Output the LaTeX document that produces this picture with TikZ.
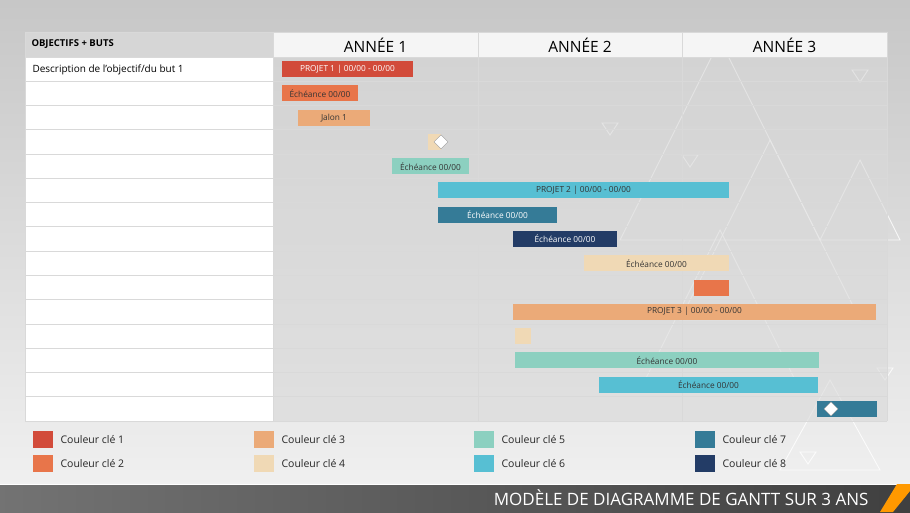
\documentclass[tikz,border=0pt]{standalone}
\usepackage{fontspec}
\setmainfont{Open Sans}
\definecolor{c1}{HTML}{D24B3A}\definecolor{c2}{HTML}{E8754A}\definecolor{c3}{HTML}{EBAA78}
\definecolor{c4}{HTML}{F0D9B5}\definecolor{c5}{HTML}{8CD0C0}\definecolor{c6}{HTML}{57BFD3}
\definecolor{c7}{HTML}{357B97}\definecolor{c8}{HTML}{233C66}
\begin{document}
\begin{tikzpicture}[x=1pt,y=-1pt,
 bar/.style={fill=#1,draw=none},
 btxt/.style={font=\fontsize{8.3}{10}\selectfont,text=black!80},
 wtxt/.style={font=\fontsize{8.3}{10}\selectfont,text=white},
 leg/.style={font=\fontsize{10.5}{12}\selectfont,anchor=west,text=black!85},
 tri/.style={draw=white,line width=0.9pt,opacity=0.8},
 dia/.style={fill=white,draw=black!40,line width=0.3pt}]
\useasboundingbox (0,0) rectangle (910,512);
\shade[top color=black!22,bottom color=black!6] (0,0) rectangle (910,484);
% decorative triangles
\foreach \a/\b/\c in {{720,40}/{620,240}/{820,240},{770,140}/{680,320}/{860,320},{720,230}/{640,390}/{800,390},{830,380}/{780,470}/{880,470},{860,160}/{820,240}/{900,240}}
 \draw[tri] (\a)--(\b)--(\c)--cycle;
\foreach \p in {{610,123},{690,155},{860,70},{808,452},{885,368}}
 \draw[tri] (\p) ++(-8,0) -- ++(16,0) -- ++(-8,12) -- cycle;
% table
\fill[black!16] (25,32) rectangle (273,57);
\fill[black!4] (273,32) rectangle (887,57);
\fill[white] (25,57) rectangle (273,421);
\fill[black!15,opacity=0.6] (273,57) rectangle (887,421);
\foreach \i in {0,...,15} \draw[black!15,line width=0.9pt] (25,{57+24.27*\i}) -- (887,{57+24.27*\i});
\draw[black!15] (25,32) -- (887,32);
\foreach \x in {25,273,478,682,887} \draw[black!15,line width=0.9pt] (\x,32) -- (\x,421);
\node[anchor=west,font=\fontsize{9.5}{11}\selectfont\bfseries] (hd) at (28,44.5) {OBJECTIFS + BUTS};
\node[font=\fontsize{15.5}{18}\selectfont] (y1) at (375.5,45) {ANNÉE 1};
\node[font=\fontsize{15.5}{18}\selectfont] (y2) at (580,45) {ANNÉE 2};
\node[font=\fontsize{15.5}{18}\selectfont] (y3) at (784.5,45) {ANNÉE 3};
\node[anchor=west,font=\fontsize{10}{12}\selectfont] (d1) at (29,69.5) {Description de l’objectif/du but 1};
% bars
\def\bh{8}
\newcommand\gbar[5]{% row, x1, x2, color, name
 \pgfmathsetmacro\yc{57+24.27*(#1+0.5)}
 \fill[#4] (#2,\yc-\bh) rectangle (#3,\yc+\bh);
 \coordinate (#5) at ({(#2+#3)/2},\yc);}
\gbar{0}{282}{413}{c1}{b0}\node[wtxt] (t0) at (b0) {PROJET 1 | 00/00 - 00/00};
\gbar{1}{282}{358}{c2}{b1}\node[btxt] (t1) at (b1) {Échéance 00/00};
\gbar{2}{298}{370}{c3}{b2}\node[btxt] (t2) at (b2) {Jalon 1};
\gbar{3}{428}{441}{c4}{b3}
\gbar{4}{392}{469}{c5}{b4}\node[btxt] (t4) at (b4) {Échéance 00/00};
\gbar{5}{438}{729}{c6}{b5}\node[btxt] (t5) at (b5) {PROJET 2 | 00/00 - 00/00};
\gbar{6}{438}{557}{c7}{b6}\node[wtxt] (t6) at (b6) {Échéance 00/00};
\gbar{7}{513}{617}{c8}{b7}\node[wtxt] (t7) at (b7) {Échéance 00/00};
\gbar{8}{584}{729}{c4}{b8}\node[btxt] (t8) at (b8) {Échéance 00/00};
\gbar{9}{694}{729}{c2}{b9}
\gbar{10}{513}{876}{c3}{b10}\node[btxt] (t10) at (b10) {PROJET 3 | 00/00 - 00/00};
\gbar{11}{515}{531}{c4}{b11}
\gbar{12}{515}{819}{c5}{b12}\node[btxt] (t12) at (b12) {Échéance 00/00};
\gbar{13}{599}{818}{c6}{b13}\node[btxt] (t13) at (b13) {Échéance 00/00};
\gbar{14}{817}{877}{c7}{b14}
\pgfmathsetmacro\ya{57+24.27*3.5}
\draw[dia] (441,\ya-7) -- (448,\ya) -- (441,\ya+7) -- (434,\ya) -- cycle;
\pgfmathsetmacro\yb{57+24.27*14.5}
\draw[dia] (831,\yb-7) -- (838,\yb) -- (831,\yb+7) -- (824,\yb) -- cycle;
% legend
\foreach \x/\ca/\cb/\na/\nb in {33/c1/c2/1/2,254/c3/c4/3/4,474/c5/c6/5/6,695/c7/c8/7/8}{
 \fill[\ca] (\x,431) rectangle ++(20,17);
 \fill[\cb] (\x,455) rectangle ++(20,17);
 \node[leg] (l\na) at (\x+24,439.5) {Couleur clé \na};
 \node[leg] (l\nb) at (\x+24,463.5) {Couleur clé \nb};}
% footer
\shade[left color=black!55,right color=black!75] (0,484) rectangle (910,512);
\fill[white] (0,484) rectangle (910,485);
\fill[orange!80!yellow] (897,484) -- (910,484) -- (910,491) -- (893,512) -- (880,512) -- cycle;
\node[anchor=east,text=white,font=\fontsize{17}{20}\selectfont] (ft) at (872,498) {MODÈLE DE DIAGRAMME DE GANTT SUR 3 ANS};
\end{tikzpicture}
\end{document}
